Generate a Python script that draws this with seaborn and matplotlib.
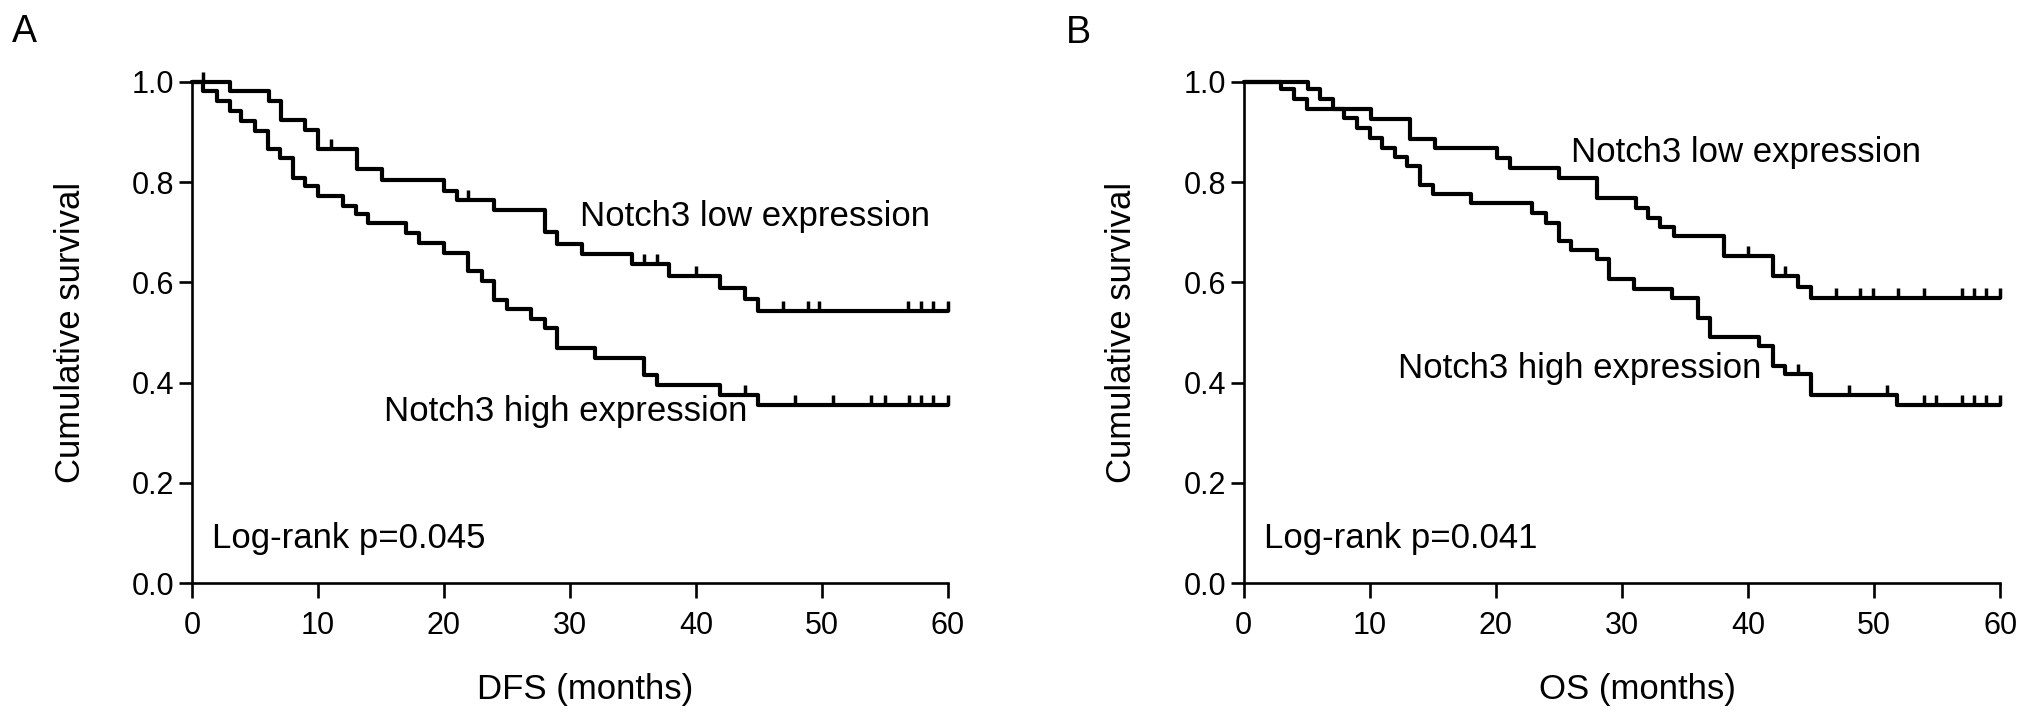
import numpy as np
import pandas as pd
import matplotlib
matplotlib.use("Agg")
import matplotlib.pyplot as plt
from matplotlib.path import Path
import seaborn as sns

# Panel A: disease-free survival
dfs_low_times = [3.0, 6.1, 7.1, 9.0, 10.0, 13.1, 15.1, 20.0, 21.0, 24.0, 28.0, 29.0,
                 31.0, 34.9, 37.9, 41.9, 43.9, 44.9]
dfs_low_surv = [0.983, 0.963, 0.925, 0.905, 0.866, 0.826, 0.805, 0.783, 0.764, 0.745,
                0.701, 0.677, 0.656, 0.636, 0.613, 0.589, 0.566, 0.543]
dfs_low_censor = [0.9, 11.0, 21.9, 35.9, 36.9, 40.0, 46.9, 48.9, 49.8, 56.8, 57.9, 58.8, 60.0]

dfs_high_times = [0.9, 2.0, 3.0, 3.9, 5.0, 6.0, 7.0, 8.0, 9.0, 10.0, 12.0, 13.0, 14.0,
                  17.0, 18.0, 20.0, 21.9, 23.0, 24.0, 25.0, 26.9, 28.0, 29.0, 32.0,
                  35.9, 36.9, 41.9, 44.9]
dfs_high_surv = [0.983, 0.963, 0.943, 0.923, 0.903, 0.866, 0.849, 0.809, 0.793, 0.773,
                 0.753, 0.736, 0.718, 0.698, 0.679, 0.659, 0.623, 0.603, 0.565, 0.546,
                 0.526, 0.509, 0.469, 0.449, 0.415, 0.396, 0.376, 0.356]
dfs_high_censor = [43.9, 47.9, 50.9, 53.9, 55.0, 56.9, 57.9, 58.8, 60.0]

# Panel B: overall survival
os_low_times = [5.1, 6.1, 7.1, 10.1, 13.2, 15.2, 20.1, 21.1, 25.0, 28.0, 31.1, 32.1,
                33.0, 34.1, 38.1, 42.0, 44.0, 45.0]
os_low_surv = [0.986, 0.967, 0.946, 0.927, 0.887, 0.869, 0.849, 0.829, 0.809, 0.769,
               0.749, 0.729, 0.711, 0.693, 0.653, 0.613, 0.591, 0.569]
os_low_censor = [40.0, 42.9, 47.0, 48.9, 49.9, 51.9, 54.0, 57.0, 57.9, 58.9, 60.0]

os_high_times = [3.0, 4.0, 5.0, 8.0, 9.0, 10.0, 11.0, 12.0, 13.0, 14.0, 15.0, 18.0,
                 22.9, 24.0, 25.0, 26.0, 28.0, 29.0, 31.0, 34.0, 36.0, 37.0, 40.9,
                 42.0, 42.9, 45.0, 51.8]
os_high_surv = [0.986, 0.967, 0.946, 0.929, 0.909, 0.889, 0.869, 0.851, 0.833, 0.795,
                0.776, 0.758, 0.739, 0.719, 0.683, 0.664, 0.646, 0.606, 0.587, 0.569,
                0.529, 0.491, 0.473, 0.434, 0.417, 0.376, 0.356]
os_high_censor = [44.0, 48.0, 51.0, 54.0, 54.9, 57.0, 57.9, 58.9, 60.0]

x_ticks = [0, 10, 20, 30, 40, 50, 60]
y_ticks = [0.0, 0.2, 0.4, 0.6, 0.8, 1.0]

sns.set_theme(style="ticks")
plt.rcParams["font.family"] = ["Liberation Sans", "DejaVu Sans"]
plt.rcParams["text.color"] = "black"
plt.rcParams["axes.labelcolor"] = "black"

tick_mark = Path([(0, 0), (0, 1)], [Path.MOVETO, Path.LINETO])


def km_frame(times, surv, group, end=60):
    t = [0.0] + list(times) + [end]
    s = [1.0] + list(surv) + [surv[-1]]
    return pd.DataFrame({"month": t, "survival": s, "group": group})


def censor_y(times, surv, cens):
    idx = np.searchsorted(times, cens, side="right") - 1
    return [1.0 if i < 0 else surv[i] for i in idx]


def draw_panel(ax, low, high, xlabel, p_text, low_pos, high_pos):
    df = pd.concat([km_frame(low[0], low[1], "low"), km_frame(high[0], high[1], "high")])
    sns.lineplot(data=df, x="month", y="survival", hue="group",
                 palette={"low": "black", "high": "black"}, estimator=None,
                 sort=False, drawstyle="steps-post", lw=3.0, legend=False,
                 ax=ax, clip_on=False)
    for times, surv, cens in (low, high):
        ax.plot(cens, censor_y(times, surv, cens), ls="none", marker=tick_mark,
                ms=14, mec="black", mew=2.5, clip_on=False)

    ax.set_xlim(0, 60)
    ax.set_ylim(0, 1)
    ax.set_xticks(x_ticks)
    ax.set_yticks(y_ticks)
    ax.set_yticklabels([f"{v:.1f}" for v in y_ticks])
    sns.despine(ax=ax)
    for s in ("left", "bottom"):
        ax.spines[s].set_linewidth(1.9)
        ax.spines[s].set_color("black")
    ax.tick_params(axis="x", length=11, width=1.9, pad=9, labelsize=22, colors="black")
    ax.tick_params(axis="y", length=9.5, width=1.9, pad=3, labelsize=22, colors="black")
    ax.set_xlabel(xlabel, fontsize=25)
    ax.set_ylabel("Cumulative survival", fontsize=25)
    ax.xaxis.set_label_coords(0.52, -0.18)
    ax.yaxis.set_label_coords(-0.139, 0.5)

    ax.text(1.6, 0.069, p_text, fontsize=25, va="baseline", ha="left")
    ax.text(low_pos[0], low_pos[1], "Notch3 low expression", fontsize=25,
            va="baseline", ha="left")
    ax.text(high_pos[0], high_pos[1], "Notch3 high expression", fontsize=25,
            va="baseline", ha="right")


fig = plt.figure(figsize=(20.31, 7.23), dpi=100)
ax_a = fig.add_axes([0.0945, 0.1936, 0.3722, 0.693])
ax_b = fig.add_axes([0.6123, 0.1936, 0.3725, 0.693])

draw_panel(ax_a, (dfs_low_times, dfs_low_surv, dfs_low_censor),
           (dfs_high_times, dfs_high_surv, dfs_high_censor),
           "DFS (months)", "Log-rank p=0.045", (30.8, 0.713), (44.1, 0.323))
draw_panel(ax_b, (os_low_times, os_low_surv, os_low_censor),
           (os_high_times, os_high_surv, os_high_censor),
           "OS (months)", "Log-rank p=0.041", (26.0, 0.840), (41.1, 0.409))

fig.text(0.006, 0.942, "A", fontsize=27, ha="left", va="baseline")
fig.text(0.525, 0.941, "B", fontsize=27, ha="left", va="baseline")

fig.savefig("out.png", dpi=100, facecolor="white")
plt.close(fig)
